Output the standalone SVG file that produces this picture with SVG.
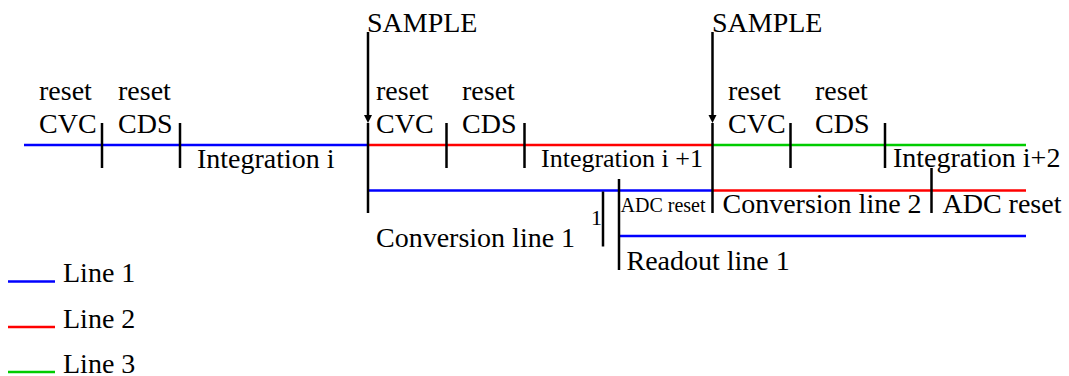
<svg xmlns="http://www.w3.org/2000/svg" width="1069" height="376" viewBox="0 0 1069 376">
<style>
text{font-family:'Liberation Serif','DejaVu Serif',serif;font-size:28px;fill:#000}
.sm{font-size:20px}
.one{font-size:22px}
.mid{font-size:26px}
.tk{stroke:#000;stroke-width:2.5;fill:none}
.b{stroke:#0000ff;stroke-width:2.5;fill:none}
.r{stroke:#ff0000;stroke-width:2.5;fill:none}
.g{stroke:#00cc00;stroke-width:2.5;fill:none}
</style>
<rect width="1069" height="376" fill="#fff"/>
<g id="connectors">
<line class="b" x1="24" y1="145" x2="368" y2="145"/>
<line class="r" x1="368" y1="145" x2="712.5" y2="145"/>
<line class="g" x1="712.5" y1="145" x2="1026" y2="145"/>
<line class="b" x1="368" y1="190.5" x2="712.5" y2="190.5"/>
<line class="r" x1="712.5" y1="190.5" x2="1026" y2="190.5"/>
<line class="b" x1="618.5" y1="236" x2="1026" y2="236"/>
<line class="tk" x1="368" y1="32" x2="368" y2="115"/>
<path d="M364,115 L372,115 L368,123 Z" fill="#000"/>
<line class="tk" x1="368" y1="123" x2="368" y2="213"/>
<line class="tk" x1="712.5" y1="32" x2="712.5" y2="115"/>
<path d="M708.5,115 L716.5,115 L712.5,123 Z" fill="#000"/>
<line class="tk" x1="712.5" y1="123" x2="712.5" y2="213"/>
<line class="tk" x1="102" y1="123" x2="102" y2="168"/>
<line class="tk" x1="180" y1="123" x2="180" y2="168"/>
<line class="tk" x1="446.5" y1="123" x2="446.5" y2="168"/>
<line class="tk" x1="524.5" y1="123" x2="524.5" y2="168"/>
<line class="tk" x1="790.5" y1="123" x2="790.5" y2="168"/>
<line class="tk" x1="885" y1="123" x2="885" y2="168"/>
<line class="tk" x1="931.5" y1="168" x2="931.5" y2="213"/>
<line class="tk" x1="603" y1="191.5" x2="603" y2="246.5"/>
<line class="tk" x1="619" y1="179" x2="619" y2="270"/>
</g>
<g id="sample1"><text x="367" y="32">SAMPLE</text></g>
<g id="sample2"><text x="712" y="32">SAMPLE</text></g>
<g id="reset-cvc-1"><text x="39" y="99.5">reset</text><text x="39" y="133">CVC</text></g>
<g id="reset-cds-1"><text x="118" y="99.5">reset</text><text x="118" y="133">CDS</text></g>
<g id="reset-cvc-2"><text x="376" y="99.5">reset</text><text x="376" y="133">CVC</text></g>
<g id="reset-cds-2"><text x="462" y="99.5">reset</text><text x="462" y="133">CDS</text></g>
<g id="reset-cvc-3"><text x="728" y="99.5">reset</text><text x="728" y="133">CVC</text></g>
<g id="reset-cds-3"><text x="815" y="99.5">reset</text><text x="815" y="133">CDS</text></g>
<g id="integration-i"><text x="197" y="168">Integration i</text></g>
<g id="integration-i1"><text class="mid" x="541" y="167">Integration i +1</text></g>
<g id="integration-i2"><text x="893" y="167">Integration i+2</text></g>
<g id="conversion-1"><text x="376" y="247">Conversion line 1</text><text class="one" x="591" y="225">1</text></g>
<g id="adc-reset-1"><text class="sm" x="620.5" y="211.5">ADC reset</text></g>
<g id="conversion-2"><text x="722.5" y="213">Conversion line 2</text></g>
<g id="adc-reset-2"><text x="942.5" y="213">ADC reset</text></g>
<g id="readout-1"><text x="626.5" y="270">Readout line 1</text></g>
<g id="legend">
<line class="b" x1="8" y1="281.5" x2="55" y2="281.5"/><text x="63" y="282">Line 1</text>
<line class="r" x1="8" y1="327" x2="55" y2="327"/><text x="63" y="328">Line 2</text>
<line class="g" x1="8" y1="372" x2="55" y2="372"/><text x="63" y="373">Line 3</text>
</g>
</svg>
